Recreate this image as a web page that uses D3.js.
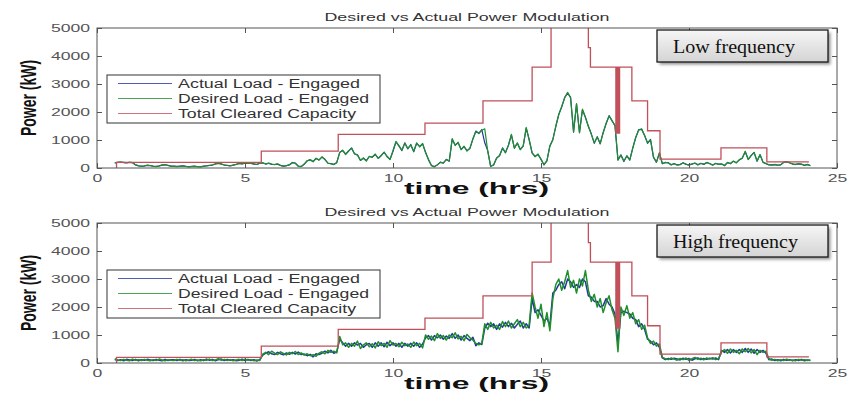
<!DOCTYPE html>
<html><head><meta charset="utf-8">
<script src="https://cdn.jsdelivr.net/npm/d3@7"></script>
<style>
html,body{margin:0;padding:0;background:#fff;}
svg{display:block;}
text{font-family:"Liberation Sans",Arial,sans-serif;}
</style></head>
<body>
<script>
// ---------------- DATA ----------------
const startHour = 0.6, stepHour = 0.1;   // load samples every 0.1 h from 0.6 h to 24.1 h
const xTicks = [0, 5, 10, 15, 20, 25];
const yTicks = [0, 1000, 2000, 3000, 4000, 5000];
const seriesNames = ["Actual Load - Engaged", "Desired Load - Engaged", "Total Cleared Capacity"];
const panelTitles = ["Desired vs Actual Power Modulation", "Desired vs Actual Power Modulation"];
const panelNotes = ["Low frequency", "High frequency"];

// Total cleared capacity (step function, kW)
const capTimes  = [0.65, 0.66, 5.55, 8.15, 11.08, 13.04, 14.7, 15.34, 16.6, 16.67, 17.53, 17.555, 17.58, 17.605, 17.63, 17.655, 18.07, 18.6, 19.02, 21.08, 22.63, 24.05];
const capValues = [0, 200, 600, 1200, 1600, 2400, 3600, 6000, 4300, 3600, 1250, 3600, 1250, 3600, 1250, 3600, 2400, 1330, 320, 720, 220, 220];

// Low frequency panel
const lowDesired = [180,
 200,210,200,190,200,190,120,80,60,
 70,100,90,60,50,70,110,120,90,70,
 60,50,60,80,60,40,50,60,50,40,
 60,80,90,110,150,170,140,110,90,80,
 100,130,160,150,180,160,170,140,130,170,
 180,150,170,140,120,150,90,60,80,120,
 200,170,60,50,140,250,300,220,350,280,
 400,300,180,150,120,200,550,640,480,620,
 700,520,460,280,350,250,420,380,500,340,
 450,560,420,300,620,950,780,640,880,700,
 820,600,900,750,880,550,300,80,40,120,
 200,180,300,250,1050,800,920,650,780,600,
 720,1050,1300,1250,1350,1400,600,50,120,350,
 450,700,560,800,1200,700,900,650,800,1450,
 1000,550,400,500,300,120,250,800,1000,1500,
 1900,2200,2500,2700,2500,1300,2300,1250,2100,1800,
 1500,1200,900,1100,880,1250,1600,1850,1700,1500,
 300,450,250,420,300,700,1100,1350,1400,1150,
 900,1000,400,200,550,150,200,180,120,150,
 100,130,180,140,100,150,170,120,160,140,
 200,150,100,170,130,150,80,200,150,250,
 180,300,350,600,300,450,550,250,480,200,
 150,120,100,130,90,120,200,230,180,150,
 120,160,130,100,120,90];
const lowActual = [180,
 205,215,195,185,205,195,110,75,65,
 75,95,85,65,55,75,105,115,95,65,
 65,55,65,75,55,45,55,65,45,45,
 65,75,95,105,145,165,145,105,95,75,
 105,125,165,145,175,165,165,145,125,175,
 190,140,175,130,125,140,95,65,85,110,
 190,175,70,55,130,260,290,230,340,290,
 390,310,170,160,130,190,560,620,500,600,
 720,500,470,270,360,260,410,390,480,350,
 440,570,400,310,600,930,800,620,900,680,
 840,580,880,770,860,560,290,90,50,110,
 210,170,310,240,1020,820,900,670,760,620,
 700,1030,1320,1230,1370,900,620,60,110,360,
 440,720,540,820,1180,720,880,670,780,1420,
 1020,530,420,480,320,110,260,780,1020,1480,
 1920,2180,2520,2680,2520,1280,2280,1270,2080,1820,
 1480,1220,880,1120,860,1270,1580,1870,1680,1520,
 280,470,230,440,280,720,1080,1370,1380,1170,
 880,1020,380,210,530,160,190,190,110,160,
 110,120,190,130,110,140,180,110,170,130,
 190,160,110,160,140,140,90,190,160,240,
 190,290,360,580,310,440,560,240,470,210,
 160,110,110,120,100,110,210,220,190,140,
 130,150,140,90,130,80];

// High frequency panel
const highDesired = [150,
 110,90,130,100,80,140,100,120,90,
 130,100,80,120,90,140,110,80,120,100,
 90,130,100,120,80,110,130,90,110,80,
 120,100,140,90,110,150,100,130,90,120,
 80,110,130,90,140,100,120,80,110,90,
 320,380,300,420,350,300,400,340,290,380,
 330,410,300,360,280,330,260,300,240,350,
 400,330,450,380,420,360,950,650,720,560,
 700,600,780,520,650,720,580,690,540,760,
 620,700,560,800,640,700,580,740,620,680,
 560,750,620,700,540,1000,850,960,800,1050,
 880,980,820,1000,900,1080,860,950,800,1020,
 900,820,700,650,700,1400,1200,1450,1250,1350,
 1200,1480,1300,1500,1250,1400,1550,1300,1450,1250,
 1350,2500,2000,1600,2100,1300,1800,1150,2300,2800,
 3000,2600,2900,3300,2700,2950,2500,3000,2750,3300,
 2600,2200,2450,2000,2300,1800,2150,2400,1900,1600,
 400,2000,1700,2050,1600,1800,1400,1550,1200,1350,
 900,700,780,600,680,200,150,120,180,140,
 100,160,120,180,90,150,200,130,170,110,
 180,140,190,120,160,400,480,350,500,380,
 450,330,500,400,520,360,480,300,450,380,
 420,150,100,130,80,120,90,140,100,110,
 80,130,100,120,90,110];
const highActual = [120,
 90,120,80,130,110,90,130,80,120,
 100,130,110,90,130,100,80,130,90,120,
 120,90,130,80,120,90,100,130,80,120,
 90,140,100,130,80,120,140,90,130,100,
 120,80,100,140,90,130,90,120,70,120,
 280,350,400,330,300,380,330,290,360,310,
 380,320,390,300,320,260,310,220,330,300,
 350,420,360,450,350,400,850,720,600,700,
 600,720,640,700,560,650,700,560,720,600,
 720,580,740,620,720,600,700,560,700,600,
 700,600,720,560,680,900,980,820,980,900,
 1000,850,960,880,1050,880,1000,820,980,880,
 800,920,620,720,660,1250,1420,1300,1400,1200,
 1400,1280,1450,1300,1420,1250,1380,1500,1250,1400,
 1250,2300,1800,1900,1700,1500,1600,1350,2500,2600,
 2800,2900,2650,3000,2900,2700,2800,2700,3000,2900,
 2400,2350,2200,2200,2000,2050,2300,2100,2000,1750,
 700,1800,1850,1800,1750,1600,1550,1300,1400,1200,
 850,780,650,720,560,180,120,160,130,170,
 140,110,170,130,160,100,150,180,120,160,
 130,170,140,180,120,450,380,480,360,480,
 380,480,380,520,380,500,350,480,380,450,
 350,120,140,90,120,80,130,100,120,80,
 120,90,130,80,110,90];

// ---------------- DRAW ----------------
const W = 850, H = 396;
const colBlue = "#2436a0", colGreen = "#1f8f2a", colRed = "#c0505a";
const SX = 1.6; // horizontal stretch of the original figure's text

const svg = d3.select("body").append("svg").attr("width", W).attr("height", H);
const defs = svg.append("defs");
const grad = defs.append("linearGradient").attr("id", "noteGrad").attr("x1", 0).attr("y1", 0).attr("x2", 0).attr("y2", 1);
grad.append("stop").attr("offset", "0%").attr("stop-color", "#f6f6f6");
grad.append("stop").attr("offset", "100%").attr("stop-color", "#d4d4d4");
const blur = defs.append("filter").attr("id", "shadowBlur").attr("x", "-10%").attr("y", "-20%").attr("width", "130%").attr("height", "160%");
blur.append("feGaussianBlur").attr("stdDeviation", 1.5);

const x = d3.scaleLinear().domain([0, 25]).range([97, 837]);

const panels = [
  {top: 28, bottom: 168, desired: lowDesired, actual: lowActual, title: panelTitles[0], note: panelNotes[0], noteLen: 122, sw: 1.2},
  {top: 223, bottom: 363, desired: highDesired, actual: highActual, title: panelTitles[1], note: panelNotes[1], noteLen: 125, sw: 1.5}
];

panels.forEach((p, pi) => {
  const g = svg.append("g");
  const y = d3.scaleLinear().domain([0, 5000]).range([p.bottom, p.top]);
  const clipId = "clip" + pi;
  defs.append("clipPath").attr("id", clipId).append("rect")
    .attr("x", x(0)).attr("y", p.top).attr("width", x(25) - x(0)).attr("height", p.bottom - p.top);

  // title
  g.append("text").attr("x", (x(0) + x(25)) / 2).attr("y", p.top - 7.5)
    .attr("text-anchor", "middle").attr("font-size", 11).attr("fill", "#333")
    .attr("textLength", 285).attr("lengthAdjust", "spacingAndGlyphs").text(p.title);

  // data lines
  const pts = arr => arr.map((v, i) => [startHour + i * stepHour, v]);
  const line = d3.line().x(d => x(d[0])).y(d => y(d[1]));
  const plot = g.append("g").attr("clip-path", `url(#${clipId})`);
  plot.append("path").datum(pts(p.actual)).attr("d", line)
    .attr("fill", "none").attr("stroke", colBlue).attr("stroke-width", p.sw).attr("stroke-linejoin", "round");
  plot.append("path").datum(pts(p.desired)).attr("d", line)
    .attr("fill", "none").attr("stroke", colGreen).attr("stroke-width", p.sw).attr("stroke-linejoin", "round");
  const capLine = d3.line().curve(d3.curveStepAfter).x(d => x(d[0])).y(d => y(d[1]));
  plot.append("path").datum(capTimes.map((t, i) => [t, capValues[i]])).attr("d", capLine)
    .attr("fill", "none").attr("stroke", colRed).attr("stroke-width", 1.3);

  // axes (inward ticks, box)
  const axCol = "#555";
  const left = g.append("g").attr("transform", `translate(${x(0)},0)`)
    .call(d3.axisLeft(y).tickValues(yTicks).tickSize(-5).tickPadding(7).tickFormat(d3.format("d")));
  const right = g.append("g").attr("transform", `translate(${x(25)},0)`)
    .call(d3.axisRight(y).tickValues(yTicks).tickSize(-5).tickFormat(""));
  const topAx = g.append("g").attr("transform", `translate(0,${p.top})`)
    .call(d3.axisTop(x).tickValues(xTicks).tickSize(-5).tickFormat(""));
  const bottomAx = g.append("g").attr("transform", `translate(0,${p.bottom})`)
    .call(d3.axisBottom(x).tickValues(xTicks).tickSize(-5).tickPadding(0).tickFormat(d3.format("d")));
  [left, right, topAx, bottomAx].forEach(a => {
    a.select(".domain").remove();
    a.selectAll("line").attr("stroke", axCol);
    a.selectAll("text").attr("fill", "#555").attr("font-size", 11)
      .style("font-family", '"Liberation Sans",Arial,sans-serif');
  });
  left.selectAll("text").attr("x", -7 / SX).attr("transform", `scale(${SX},1)`);
  bottomAx.selectAll("text").attr("y", 14).attr("dy", 0).attr("transform", `scale(${SX},1)`);
  g.append("rect").attr("x", x(0)).attr("y", p.top).attr("width", x(25) - x(0)).attr("height", p.bottom - p.top)
    .attr("fill", "none").attr("stroke", axCol).attr("stroke-width", 1);

  // axis labels
  g.append("text").attr("transform", `translate(36,${(p.top + p.bottom) / 2}) scale(${SX},1) rotate(-90)`)
    .attr("text-anchor", "middle").attr("font-size", 14).attr("font-weight", "bold").attr("fill", "#111")
    .text("Power (kW)");
  g.append("text").attr("x", 476.5).attr("y", p.bottom + 26)
    .attr("text-anchor", "middle").attr("font-size", 16).attr("font-weight", "bold").attr("fill", "#111")
    .attr("textLength", 145).attr("lengthAdjust", "spacingAndGlyphs").text("time (hrs)");

  // legend
  const lg = g.append("g").attr("transform", `translate(107,${p.top + 47})`);
  lg.append("rect").attr("width", 273).attr("height", 48).attr("fill", "#fff").attr("stroke", "#333").attr("stroke-width", 1);
  const legCols = [colBlue, colGreen, colRed];
  const legLens = [182, 191, 178];
  seriesNames.forEach((n, i) => {
    const ly = 8.5 + i * 15;
    lg.append("line").attr("x1", 11).attr("x2", 65).attr("y1", ly).attr("y2", ly)
      .attr("stroke", legCols[i]).attr("stroke-width", 1).attr("opacity", 0.8);
    lg.append("text").attr("x", 71).attr("y", ly + 4.5).attr("font-size", 12).attr("fill", "#333")
      .attr("textLength", legLens[i]).attr("lengthAdjust", "spacingAndGlyphs").text(n);
  });

  // annotation box
  const ng = g.append("g").attr("transform", `translate(657,${p.top + 2})`);
  ng.append("rect").attr("x", 2.5).attr("y", 2.5).attr("width", 171).attr("height", 32)
    .attr("fill", "#666").attr("opacity", 0.7).attr("filter", "url(#shadowBlur)");
  ng.append("rect").attr("width", 171).attr("height", 32).attr("fill", "url(#noteGrad)")
    .attr("stroke", "#1a1a1a").attr("stroke-width", 1.3);
  ng.append("text").attr("x", 16).attr("y", 22.5).attr("font-size", 18).attr("fill", "#111")
    .style("font-family", '"Liberation Serif","Times New Roman",serif')
    .attr("textLength", p.noteLen).attr("lengthAdjust", "spacingAndGlyphs").text(p.note);
});
</script>
</body></html>
